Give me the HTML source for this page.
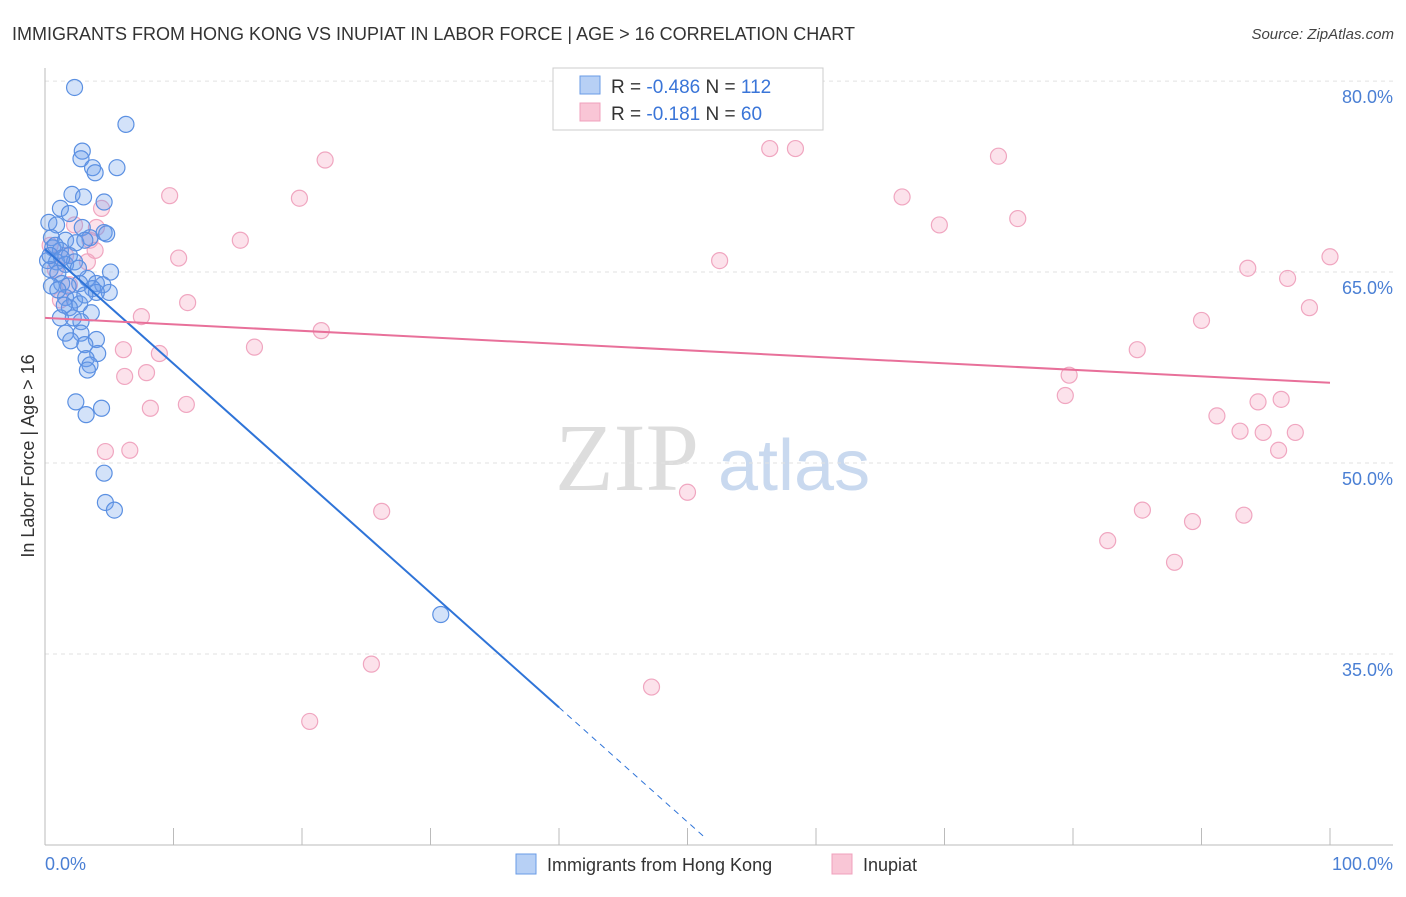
<!DOCTYPE html>
<html><head><meta charset="utf-8"><style>
body{margin:0;background:#fff;font-family:"Liberation Sans",sans-serif}
</style></head><body>
<svg width="1406" height="892" xmlns="http://www.w3.org/2000/svg" font-family="Liberation Sans, sans-serif">
<text x="12" y="40" font-size="18" fill="#333">IMMIGRANTS FROM HONG KONG VS INUPIAT IN LABOR FORCE | AGE &gt; 16 CORRELATION CHART</text>
<text x="1394" y="39" font-size="15" fill="#444" text-anchor="end" font-style="italic">Source: ZipAtlas.com</text>
<text x="555" y="490" font-size="96" fill="#ddd" font-family="Liberation Serif, serif">ZIP</text>
<text x="718" y="490" font-size="72" fill="#c9d9ef">atlas</text>
<g id="grid"></g><g id="axes"></g><g id="pink"></g><g id="blue"></g><g id="lines"></g>
<text transform="translate(34,456) rotate(-90)" font-size="18" fill="#333" text-anchor="middle">In Labor Force | Age &gt; 16</text>
<text x="45" y="870" font-size="18" fill="#4a7fd4">0.0%</text>
<text x="1393" y="870" font-size="18" fill="#4a7fd4" text-anchor="end">100.0%</text>
<g>
<rect x="553" y="68" width="270" height="62" fill="#fff" stroke="#ccc"/>
<rect x="580" y="76" width="20" height="18" fill="#b7d0f5" stroke="#6a9be6"/>
<rect x="580" y="103" width="20" height="18" fill="#f9c6d6" stroke="#f0a0bc"/>
<text x="611" y="93" font-size="19" fill="#333">R = <tspan fill="#3a75d8">-0.486</tspan>   N = <tspan fill="#3a75d8">112</tspan></text>
<text x="611" y="120" font-size="19" fill="#333">R =   <tspan fill="#3a75d8">-0.181</tspan>   N =  <tspan fill="#3a75d8">60</tspan></text>
</g>
<g>
<rect x="516" y="854" width="20" height="20" fill="#b7d0f5" stroke="#6a9be6"/>
<text x="547" y="871" font-size="18" fill="#333">Immigrants from Hong Kong</text>
<rect x="832" y="854" width="20" height="20" fill="#f9c6d6" stroke="#f0a0bc"/>
<text x="863" y="871" font-size="18" fill="#333">Inupiat</text>
</g>
</svg>
<script>
const yTicks=[35,50,65,80];
const yTickLabels=["35.0%","50.0%","65.0%","80.0%"];
const xTicks=[0,10,20,30,40,50,60,70,80,90,100];
const pinkX=[21.8,56.4,58.4,74.2,9.7,19.8,66.7,4.4,75.7,69.6,15.2,3.9,10.4,52.5,100,93.6,96.7,11.1,98.4,7.5,90.0,21.5,16.3,6.1,8.9,85.0,7.9,6.2,79.7,79.4,8.2,11.0,91.2,94.4,96.2,93.0,94.8,97.3,96.0,4.7,6.6,50.0,26.2,85.4,89.3,93.3,82.7,87.9,25.4,47.2,20.6,4.0,3.5,0.8,1.9,1.2,3.3,2.3,1.6,0.4];
const pinkY=[73.8,74.7,74.7,74.1,71.0,70.8,70.9,70.0,69.2,68.7,67.5,66.7,66.1,65.9,66.2,65.3,64.5,62.6,62.2,61.5,61.2,60.4,59.1,58.9,58.6,58.9,57.1,56.8,56.9,55.3,54.3,54.6,53.7,54.8,55.0,52.5,52.4,52.4,51.0,50.9,51.0,47.7,46.2,46.3,45.4,45.9,43.9,42.2,34.2,32.4,29.7,68.5,67.5,65.2,64.0,62.8,65.8,68.7,66.3,67.1];
const blueX=[2.3,6.3,2.9,2.8,3.7,5.6,3.9,2.1,3.0,4.6,1.2,1.9,0.3,0.9,2.9,4.6,4.8,3.5,0.5,1.6,2.4,3.1,0.6,1.2,1.9,0.2,0.9,1.6,2.3,0.4,1.0,5.1,3.3,4.0,2.7,1.3,1.8,4.5,3.7,0.5,5.0,4.0,1.6,2.3,2.7,1.9,3.6,1.2,2.2,2.8,1.6,2.8,4.0,2.0,3.1,4.1,3.2,3.5,3.3,2.4,4.4,3.2,4.6,4.7,5.4,30.8,0.8,0.4,1.3,2.6,1.0,3.1,1.5];
const blueY=[79.5,76.6,74.5,73.9,73.2,73.2,72.8,71.1,70.9,70.5,70.0,69.6,68.9,68.7,68.5,68.1,68.0,67.7,67.7,67.5,67.3,67.5,66.9,66.7,66.3,65.9,65.8,65.6,65.8,65.2,64.9,65.0,64.5,64.1,64.1,64.1,63.9,64.0,63.7,63.9,63.4,63.4,63.0,62.8,62.5,62.2,61.8,61.4,61.4,61.1,60.2,60.2,59.7,59.6,59.3,58.6,58.2,57.7,57.3,54.8,54.3,53.8,49.2,46.9,46.3,38.1,67.1,66.3,66.1,65.3,63.6,63.2,62.4];
const blueTrend=[66.8,-23.2], pinkTrend=[61.4,56.3];
const NS="http://www.w3.org/2000/svg";
const sx=v=>45+v*12.85, sy=v=>463-(v-50)*12.73;
function mk(tag,attrs,parent){const e=document.createElementNS(NS,tag);for(const k in attrs)e.setAttribute(k,attrs[k]);document.getElementById(parent).appendChild(e);return e;}
yTicks.forEach((t,i)=>{
 const l=mk('line',{x1:45,x2:1393,y1:sy(t),y2:sy(t),stroke:'#e2e2e2','stroke-dasharray':'4,4'},'grid');
 
 
 const tx=mk('text',{x:1393,y:sy(t)+22,'font-size':18,fill:'#4a7fd4','text-anchor':'end'},'grid');
 tx.textContent=yTickLabels[i];
 
 
});
let ax=mk('line',{x1:45,x2:45,y1:68,y2:845,stroke:'#bbb'},'axes');


ax=mk('line',{x1:45,x2:1393,y1:845,y2:845,stroke:'#bbb'},'axes');


xTicks.forEach(t=>{const l=mk('line',{x1:sx(t),x2:sx(t),y1:828,y2:845,stroke:'#bbb'},'axes');
 
 });
pinkX.forEach((x,i)=>{const c=mk('circle',{cx:sx(x),cy:sy(pinkY[i]),r:8,fill:'rgba(244,160,190,0.3)',stroke:'#f0a6c0','stroke-width':1.2},'pink');
 
 });
blueX.forEach((x,i)=>{const c=mk('circle',{cx:sx(x),cy:sy(blueY[i]),r:8,fill:'rgba(110,160,235,0.3)',stroke:'#5b90e2','stroke-width':1.2},'blue');
 
 });
const bAt=x=>blueTrend[0]+(blueTrend[1]-blueTrend[0])*x/100;
let l=mk('line',{x1:sx(0),y1:sy(bAt(0)),x2:sx(40),y2:sy(bAt(40)),stroke:'#2f74d8','stroke-width':2},'lines');


l=mk('line',{x1:sx(40),y1:sy(bAt(40)),x2:sx(51.5),y2:sy(bAt(51.5)),stroke:'#2f74d8','stroke-width':1,'stroke-dasharray':'6,5'},'lines');


l=mk('line',{x1:sx(0),y1:sy(pinkTrend[0]),x2:sx(100),y2:sy(pinkTrend[1]),stroke:'#e8709a','stroke-width':2},'lines');


</script>
</body></html>
